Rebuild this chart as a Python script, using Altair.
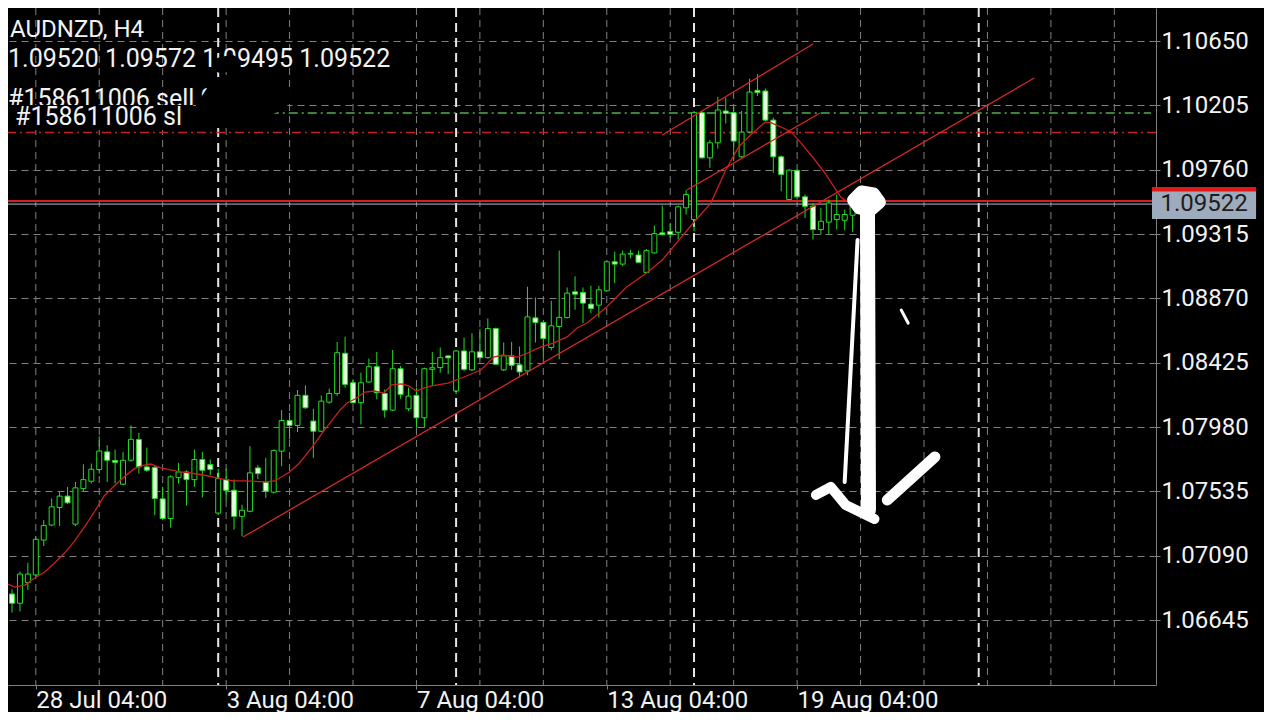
import altair as alt
import pandas as pd

# ---------------- data ----------------
opens = [1.06825, 1.06761, 1.06904, 1.06957, 1.07198, 1.07302, 1.07423, 1.07502, 1.07308, 1.07554,
         1.07605, 1.07686, 1.07808, 1.07748, 1.07584, 1.07750, 1.07893, 1.07704, 1.07699, 1.07483,
         1.07347, 1.07630, 1.07669, 1.07616, 1.07755, 1.07720, 1.07385, 1.07616, 1.07543, 1.07362,
         1.07397, 1.07697, 1.07598, 1.07529, 1.07813, 1.08025, 1.07991, 1.08199, 1.08021, 1.07951,
         1.08152, 1.08212, 1.08490, 1.08286, 1.08148, 1.08291, 1.08397, 1.08212, 1.08097, 1.08383,
         1.08106, 1.08199, 1.08044, 1.08379, 1.08391, 1.08472, 1.08229, 1.08506, 1.08375, 1.08500,
         1.08460, 1.08661, 1.08375, 1.08472, 1.08410, 1.08368, 1.08735, 1.08703, 1.08530, 1.08675,
         1.08738, 1.08915, 1.08911, 1.08830, 1.08823, 1.08922, 1.09123, 1.09107, 1.09176, 1.09170,
         1.09049, 1.09184, 1.09323, 1.09332, 1.09327, 1.09496, 1.09415, 1.10154, 1.09842, 1.09946,
         1.10166, 1.10154, 1.09849, 1.10020, 1.10309, 1.10304, 1.10103, 1.09849, 1.09554, 1.09755,
         1.09572, 1.09507, 1.09346, 1.09397, 1.09415, 1.09410, 1.09445, 1.09520]
highs = [1.06858, 1.06980, 1.07042, 1.07221, 1.07336, 1.07486, 1.07532, 1.07566, 1.07600, 1.07722,
         1.07727, 1.07916, 1.07854, 1.07824, 1.07808, 1.07992, 1.07939, 1.07837, 1.07715, 1.07566,
         1.07646, 1.07732, 1.07681, 1.07824, 1.07808, 1.07755, 1.07692, 1.07692, 1.07617, 1.07443,
         1.07848, 1.07716, 1.07767, 1.07824, 1.08097, 1.08079, 1.08236, 1.08268, 1.08106, 1.08199,
         1.08245, 1.08568, 1.08605, 1.08310, 1.08356, 1.08453, 1.08499, 1.08240, 1.08513, 1.08402,
         1.08252, 1.08252, 1.08390, 1.08499, 1.08530, 1.08477, 1.08513, 1.08599, 1.08629, 1.08657,
         1.08731, 1.08668, 1.08564, 1.08569, 1.08537, 1.08950, 1.08876, 1.08712, 1.08853, 1.09200,
         1.08945, 1.09022, 1.08945, 1.08957, 1.08957, 1.09130, 1.09193, 1.09200, 1.09206, 1.09200,
         1.09211, 1.09373, 1.09512, 1.09392, 1.09512, 1.09618, 1.10166, 1.10166, 1.09965, 1.10265,
         1.10258, 1.10196, 1.10166, 1.10390, 1.10420, 1.10321, 1.10120, 1.09858, 1.09762, 1.09762,
         1.09588, 1.09530, 1.09496, 1.09554, 1.09588, 1.09484, 1.09520, 1.09572]
lows = [1.06697, 1.06704, 1.06853, 1.06945, 1.07157, 1.07295, 1.07295, 1.07446, 1.07295, 1.07532,
        1.07589, 1.07658, 1.07600, 1.07589, 1.07578, 1.07739, 1.07658, 1.07670, 1.07370, 1.07336,
        1.07285, 1.07589, 1.07437, 1.07566, 1.07492, 1.07646, 1.07370, 1.07473, 1.07270, 1.07224,
        1.07390, 1.07621, 1.07490, 1.07520, 1.07709, 1.07894, 1.07945, 1.08106, 1.07767, 1.07945,
        1.08141, 1.08194, 1.08252, 1.08143, 1.07998, 1.08286, 1.08171, 1.08044, 1.08090, 1.08176,
        1.08090, 1.07975, 1.07975, 1.08263, 1.08356, 1.08345, 1.08206, 1.08368, 1.08368, 1.08449,
        1.08453, 1.08410, 1.08368, 1.08375, 1.08322, 1.08338, 1.08564, 1.08467, 1.08510, 1.08449,
        1.08731, 1.08791, 1.08698, 1.08768, 1.08738, 1.08915, 1.08975, 1.09091, 1.09146, 1.09114,
        1.09045, 1.09179, 1.09304, 1.09288, 1.09276, 1.09450, 1.09334, 1.09835, 1.09773, 1.09905,
        1.10080, 1.09819, 1.09842, 1.10011, 1.10270, 1.10096, 1.09738, 1.09611, 1.09554, 1.09554,
        1.09426, 1.09276, 1.09311, 1.09311, 1.09346, 1.09341, 1.09330, 1.09495]
closes = [1.06761, 1.06963, 1.06963, 1.07203, 1.07299, 1.07428, 1.07502, 1.07456, 1.07559, 1.07616,
          1.07688, 1.07814, 1.07750, 1.07736, 1.07750, 1.07895, 1.07704, 1.07681, 1.07485, 1.07347,
          1.07635, 1.07669, 1.07616, 1.07755, 1.07681, 1.07686, 1.07623, 1.07542, 1.07362, 1.07404,
          1.07663, 1.07658, 1.07536, 1.07817, 1.08025, 1.07991, 1.08199, 1.08113, 1.07951, 1.08159,
          1.08212, 1.08494, 1.08275, 1.08148, 1.08286, 1.08397, 1.08217, 1.08097, 1.08383, 1.08206,
          1.08194, 1.08044, 1.08383, 1.08390, 1.08460, 1.08458, 1.08506, 1.08379, 1.08500, 1.08460,
          1.08661, 1.08414, 1.08472, 1.08407, 1.08361, 1.08742, 1.08703, 1.08592, 1.08680, 1.08738,
          1.08906, 1.08899, 1.08837, 1.08800, 1.08929, 1.09123, 1.09107, 1.09176, 1.09181, 1.09119,
          1.09200, 1.09318, 1.09311, 1.09313, 1.09503, 1.09588, 1.10154, 1.09842, 1.09946, 1.10173,
          1.10150, 1.09958, 1.10020, 1.10297, 1.10293, 1.10103, 1.09849, 1.09727, 1.09757, 1.09572,
          1.09507, 1.09346, 1.09403, 1.09530, 1.09450, 1.09450, 1.09515, 1.09522]

# moving average as drawn (bar position, price)
ma_idx = [-0.875, 0.375, 1.625, 2.875, 4.125, 5.375, 6.625, 7.875, 9.125, 10.375, 11.625, 12.875,
          14.125, 15.375, 16.625, 17.5, 18.75, 20, 21.25, 22.5, 24.125, 25.375, 26.625, 27.875,
          29.5, 32, 33.125, 35, 36.25, 37.875, 39.125, 40.375, 41.375, 42.25, 43.25, 44.5, 45.75,
          46.875, 47.875, 49.125, 50, 51, 52, 52.875, 55, 57, 59.125, 60.75, 61.875, 63.75, 65,
          66.625, 68.25, 70, 71.25, 72.5, 73.75, 75, 76.25, 77.5, 78.75, 80, 82, 86, 88.125, 90,
          91.625, 93.125, 95, 95.75, 97, 98.25, 99.5, 101.25, 102.5, 103.75, 104.5, 106]
ma_val = [1.06901, 1.06873, 1.06887, 1.06936, 1.06977, 1.07039, 1.07108, 1.07191, 1.07288, 1.07392,
          1.07503, 1.07572, 1.07634, 1.07690, 1.07717, 1.07724, 1.07697, 1.07683, 1.07669, 1.07662,
          1.07648, 1.07634, 1.07620, 1.07607, 1.07607, 1.07600, 1.07607, 1.07669, 1.07731, 1.07842,
          1.07939, 1.08028, 1.08098, 1.08146, 1.08174, 1.08222, 1.08229, 1.08215, 1.08271, 1.08278,
          1.08264, 1.08229, 1.08250, 1.08264, 1.08284, 1.08326, 1.08374, 1.08464, 1.08478, 1.08464,
          1.08492, 1.08533, 1.08561, 1.08603, 1.08665, 1.08699, 1.08755, 1.08810, 1.08879, 1.08948,
          1.08997, 1.09045, 1.09135, 1.09398, 1.09529, 1.09758, 1.09917, 1.10000, 1.10090, 1.10083,
          1.10055, 1.10021, 1.09944, 1.09827, 1.09737, 1.09633, 1.09571, 1.09516]

# trend / channel lines
trend_x1 = [29.125, 82.0, 85.1]
trend_p1 = [1.07219, 1.10000, 1.09619]
trend_x2 = [128.9, 101.0, 101.9]
trend_p2 = [1.10394, 1.10629, 1.10152]

# order / price lines
sl_red_level = 1.10017
tp_green_level = 1.10152
tp_green_start = 32.5
order_red_level = 1.09543
bid_level = 1.09522

y_ticks = [1.06645, 1.07090, 1.07535, 1.07980, 1.08425, 1.08870, 1.09315, 1.09760, 1.10205, 1.10650]
x_label_idx = [3, 27, 51, 75, 99]
x_label_txt = ["28 Jul 04:00", "3 Aug 04:00", "7 Aug 04:00", "13 Aug 04:00", "19 Aug 04:00"]
grid_idx = list(range(3, 144, 8))
separator_idx = [26, 56, 86, 121.9]

header_lines = ["AUDNZD, H4", "1.09520 1.09572 1.09495 1.09522", "#158611006 sell 0", "#158611006 sl"]

# hand-drawn strokes (bar position, price)
blob_x = [24.75, 26.0, 28.875, 31.875, 33.5, 31.0, 28.5, 25.625, 24.75]
blob_p = [1.10173, 1.10276, 1.10366, 1.10346, 1.10263, 1.10187, 1.10159, 1.10159, 1.10173]
blob2_x = [26.375, 27.625]
blob2_p = [1.10484, 1.10498]

arrow_strokes = [
    ([107.875, 108.0], [1.09467, 1.07406], 15),
    ([106.625, 105.0], [1.09274, 1.07600], 4),
    ([101.375, 103.25, 105.125, 108.75], [1.07510, 1.07565, 1.07441, 1.07344], 10),
    ([116.375, 110.375], [1.07773, 1.07475], 11),
    ([112.125, 113.0], [1.08789, 1.08699], 3),
    ([106.125, 107.125, 108.625, 109.375, 108.375, 106.875, 106.125],
     [1.09550, 1.09606, 1.09592, 1.09536, 1.09488, 1.09495, 1.09550], 13),
    ([106.875, 108.375], [1.09550, 1.09550], 14),
]

# price tags on the right scale
tag_red = (143.75, 156.875, 1.09640, 1.09474)
tag_bid = (143.75, 156.875, 1.09609, 1.09419)

# ---------------- chart ----------------
W, H = 1148, 677
PAD_R, PAD_B = 108, 27
X_DOM = [0.125, 143.625]
Y_DOM = [1.061955, 1.108783]
FONT = "Roboto"
GREEN = "#22dd22"
BEAR_FILL = "#e4ffdc"
GRID = "#808080"
TXT = "#f2f2f2"

xs = alt.Scale(domain=X_DOM, nice=False, zero=False)
ys = alt.Scale(domain=Y_DOM, nice=False, zero=False)

label_expr = " : ".join(
    f"datum.value == {v} ? '{t}'" for v, t in zip(x_label_idx, x_label_txt)
) + " : ''"

x_axis = alt.Axis(values=x_label_idx, labelExpr=label_expr, title=None, grid=False,
                  labelAlign="left", labelBaseline="top", labelPadding=-1, labelFont=FONT,
                  labelFontSize=24, labelColor=TXT, tickColor=GRID, tickSize=4,
                  domainColor=GRID, labelOverlap=False, labelFlush=False, labelBound=False)
y_axis = alt.Axis(values=y_ticks, format=".5f", title=None, orient="right", grid=True,
                  gridColor=GRID, gridDash=[7, 5], gridWidth=1, labelFont=FONT,
                  labelFontSize=24, labelColor=TXT, tickColor=GRID, tickSize=4,
                  labelPadding=1, domainColor=GRID, labelOverlap=False, labelFlush=False,
                  labelBound=False)


def X(field):
    return alt.X(field, scale=xs, axis=x_axis)


def Y(field):
    return alt.Y(field, scale=ys, axis=y_axis)


candles = pd.DataFrame({"i": list(range(len(opens))), "o": opens, "h": highs, "l": lows, "c": closes})
candles["dir"] = ["up" if c >= o else "down" for o, c in zip(opens, closes)]

grid_layer = alt.Chart(pd.DataFrame({"i": grid_idx})).mark_rule(
    color=GRID, strokeDash=[7, 5], strokeWidth=1).encode(x=X("i:Q"))

sep_layer = alt.Chart(pd.DataFrame({"i": separator_idx})).mark_rule(
    color="#e6e6e6", strokeWidth=2, strokeDash=[9, 6]).encode(x=X("i:Q"))

sl_layer = alt.Chart(pd.DataFrame({"p": [sl_red_level]})).mark_rule(
    color="#c42222", strokeWidth=1.3, strokeDash=[9, 4, 2, 4]).encode(y=Y("p:Q"))
tp_layer = alt.Chart(pd.DataFrame({"p": [tp_green_level], "x1": [tp_green_start], "x2": [X_DOM[1]]})).mark_rule(
    color="#4fb04f", strokeWidth=1.3, strokeDash=[9, 4, 2, 4]).encode(
    x=X("x1:Q"), x2="x2:Q", y=Y("p:Q"))
order_layer = alt.Chart(pd.DataFrame({"p": [order_red_level]})).mark_rule(
    color="#d42020", strokeWidth=2).encode(y=Y("p:Q"))
bid_layer = alt.Chart(pd.DataFrame({"p": [bid_level]})).mark_rule(
    color="#b4bccb", strokeWidth=1).encode(y=Y("p:Q"))

wick_layer = alt.Chart(candles).mark_rule(color=GREEN, strokeWidth=1, clip=True).encode(
    x=X("i:Q"), y=Y("l:Q"), y2="h:Q")
body_layer = alt.Chart(candles).mark_bar(size=5, stroke=GREEN, strokeWidth=1, clip=True).encode(
    x=X("i:Q"), y=Y("o:Q"), y2="c:Q",
    fill=alt.Fill("dir:N", scale=alt.Scale(domain=["up", "down"], range=["#000000", BEAR_FILL]), legend=None))

ma_df = pd.DataFrame({"i": ma_idx, "p": ma_val, "k": list(range(len(ma_idx)))})
ma_layer = alt.Chart(ma_df).mark_line(color="#c8201c", strokeWidth=1.3, clip=True).encode(
    x=X("i:Q"), y=Y("p:Q"), order="k:Q")

trend_df = pd.DataFrame({"x1": trend_x1, "p1": trend_p1, "x2": trend_x2, "p2": trend_p2})
trend_layer = alt.Chart(trend_df).mark_rule(color="#d42828", strokeWidth=1.3, clip=True).encode(
    x=X("x1:Q"), x2="x2:Q", y=Y("p1:Q"), y2="p2:Q")

# header texts (pixel placement inside the plot, like the terminal's overlay)
text_pos = [(2, 29, 24), (0, 59, 25), (0, 99, 25), (7, 117, 25)]
text_layers = []
for n, ((tx, ty, fs), t) in enumerate(zip(text_pos, header_lines)):
    if n == 3:
        # opaque label box of the second order label, hiding the bottom of the first
        text_layers.append(
            alt.Chart(pd.DataFrame({"t": [t]})).mark_rect(color="#000000").encode(
                x=alt.value(0), x2=alt.value(185), y=alt.value(97), y2=alt.value(122)))
    text_layers.append(
        alt.Chart(pd.DataFrame({"t": [t]})).mark_text(
            align="left", baseline="alphabetic", font=FONT, fontSize=fs, color=TXT).encode(
            x=alt.value(tx), y=alt.value(ty), text="t:N"))

blob_df = pd.DataFrame({"i": blob_x, "p": blob_p, "k": list(range(len(blob_x)))})
blob_layer = alt.Chart(blob_df).mark_line(color="#000000", strokeWidth=26, strokeCap="round",
                                          strokeJoin="round", clip=True).encode(
    x=X("i:Q"), y=Y("p:Q"), order="k:Q")
blob2_df = pd.DataFrame({"i": blob2_x, "p": blob2_p, "k": list(range(len(blob2_x)))})
blob2_layer = alt.Chart(blob2_df).mark_line(color="#000000", strokeWidth=16, strokeCap="round",
                                            strokeJoin="round", clip=True).encode(
    x=X("i:Q"), y=Y("p:Q"), order="k:Q")

arrow_layers = []
for sx, sp, w in arrow_strokes:
    df = pd.DataFrame({"i": sx, "p": sp, "k": list(range(len(sx)))})
    arrow_layers.append(
        alt.Chart(df).mark_line(color="#ffffff", strokeWidth=w, strokeCap="round", strokeJoin="round").encode(
            x=X("i:Q"), y=Y("p:Q"), order="k:Q"))

tag_red_layer = alt.Chart(pd.DataFrame({"x1": [tag_red[0]], "x2": [tag_red[1]], "p1": [tag_red[2]], "p2": [tag_red[3]]})).mark_rect(
    color="#e01818", clip=False).encode(x=X("x1:Q"), x2="x2:Q", y=Y("p1:Q"), y2="p2:Q")
tag_bid_layer = alt.Chart(pd.DataFrame({"x1": [tag_bid[0]], "x2": [tag_bid[1]], "p1": [tag_bid[2]], "p2": [tag_bid[3]]})).mark_rect(
    color="#9eabbd", clip=False).encode(x=X("x1:Q"), x2="x2:Q", y=Y("p1:Q"), y2="p2:Q")
tag_text_layer = alt.Chart(pd.DataFrame({"p": [bid_level], "x": [(tag_bid[0] + tag_bid[1]) / 2], "t": [f"{bid_level:.5f}"]})).mark_text(
    font=FONT, fontSize=24, color="#1c1c1c", align="center", baseline="middle", clip=False).encode(
    x=X("x:Q"), y=Y("p:Q"), text="t:N")

chart = alt.layer(
    grid_layer, sep_layer, sl_layer, tp_layer, order_layer, bid_layer,
    wick_layer, body_layer, ma_layer, trend_layer,
    *text_layers, blob_layer, blob2_layer, *arrow_layers,
    tag_red_layer, tag_bid_layer, tag_text_layer,
).properties(
    width=W, height=H,
    autosize=alt.AutoSizeParams(type="none"),
    padding={"left": 0, "top": 0, "right": PAD_R, "bottom": PAD_B},
).configure(background="#000000").configure_view(stroke=None)

chart.save("out.html", embed_options={"renderer": "svg", "actions": False})
